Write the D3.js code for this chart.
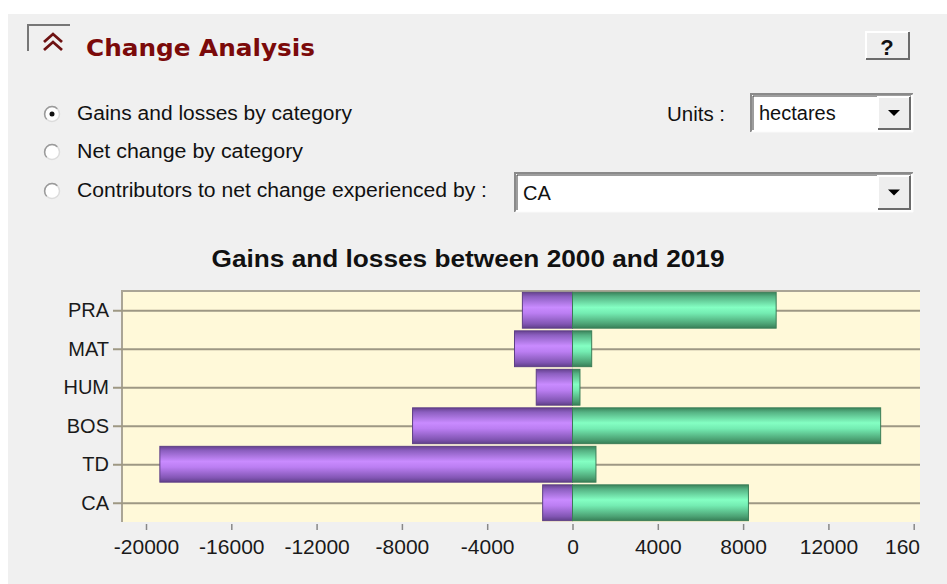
<!DOCTYPE html>
<html>
<head>
<meta charset="utf-8">
<script src="https://cdn.jsdelivr.net/npm/d3@7"></script>
<style>
  body { margin: 0; background: #fff; }
  svg { display: block; }
</style>
</head>
<body>
<div id="chart"></div>
<script>
// data (hectares)
var categories = ["PRA", "MAT", "HUM", "BOS", "TD", "CA"];
var losses = [-2350, -2720, -1700, -7500, -19350, -1400];
var gains = [9550, 900, 350, 14450, 1100, 8250];
var tickValues = [-20000, -16000, -12000, -8000, -4000, 0, 4000, 8000, 12000, 16000];
var xMin = -21125, xMax = 16295;

var W = 947, H = 584;
var plot = { left: 122, right: 920, top: 291, bottom: 522 };

var svg = d3.select("#chart").append("svg")
  .attr("width", W)
  .attr("height", H);

var defs = svg.append("defs");

function barGradient(id, stops) {
  var g = defs.append("linearGradient").attr("id", id)
    .attr("x1", 0).attr("y1", 0).attr("x2", 0).attr("y2", 1);
  stops.forEach(function(s) {
    g.append("stop").attr("offset", s[0]).attr("stop-color", s[1]);
  });
}
barGradient("purple", [[0, "#66428f"], [0.12, "#8c5fc0"], [0.42, "#c98bff"], [0.58, "#bb7ef2"], [0.88, "#8256b4"], [1, "#60408a"]]);
barGradient("green", [[0, "#3a845b"], [0.12, "#55b283"], [0.42, "#84ffc3"], [0.58, "#74ecb2"], [0.88, "#4ca274"], [1, "#377f57"]]);

defs.append("clipPath").attr("id", "clip")
  .append("rect").attr("x", 0).attr("y", 0).attr("width", plot.right).attr("height", H);

// panel background
svg.append("rect").attr("x", 8).attr("y", 14).attr("width", W - 8).attr("height", H - 14)
  .attr("fill", "#f0f0f0");

// ---- header ----
svg.append("path").attr("d", "M28,51V25H70")
  .attr("fill", "none").attr("stroke", "#777").attr("stroke-width", 2);
svg.append("path").attr("d", "M44,42L53,34L62,42M44,50L53,42L62,50")
  .attr("fill", "none").attr("stroke", "#6e1212").attr("stroke-width", 2.8);
svg.append("text").attr("x", 86).attr("y", 56)
  .attr("textLength", 229).attr("lengthAdjust", "spacingAndGlyphs")
  .style("font", "bold 23px 'DejaVu Sans', sans-serif")
  .attr("fill", "#7b0a0a")
  .text("Change Analysis");

// raised "?" button
function raised(x, y, w, h) {
  svg.append("rect").attr("x", x).attr("y", y).attr("width", w).attr("height", h).attr("fill", "#eeeeee");
  svg.append("path").attr("d", "M" + x + "," + (y + h) + "V" + y + "H" + (x + w))
    .attr("fill", "none").attr("stroke", "#fff").attr("stroke-width", 2);
  svg.append("path").attr("d", "M" + x + "," + (y + h) + "H" + (x + w) + "V" + y)
    .attr("fill", "none").attr("stroke", "#6b6b6b").attr("stroke-width", 2);
}
raised(866, 32, 43, 27);
svg.append("text").attr("x", 887).attr("y", 55).attr("text-anchor", "middle")
  .style("font", "bold 22px 'Liberation Sans', Arial, sans-serif").attr("fill", "#111").text("?");

// radio options
var options = [
  { label: "Gains and losses by category", y: 120, w: 275, on: true },
  { label: "Net change by category", y: 158, w: 226, on: false },
  { label: "Contributors to net change experienced by :", y: 197, w: 410, on: false }
];
options.forEach(function(o) {
  var cy = o.y - 6;
  svg.append("circle").attr("cx", 52).attr("cy", cy).attr("r", 7.5)
    .attr("fill", "#fff").attr("stroke", "#dcdcdc").attr("stroke-width", 1.5);
  svg.append("path")
    .attr("d", "M" + (52 - 7.5 * 0.707) + "," + (cy + 7.5 * 0.707) + "A7.5,7.5 0 0 1 " + (52 + 7.5 * 0.707) + "," + (cy - 7.5 * 0.707))
    .attr("fill", "none").attr("stroke", "#9a9a9a").attr("stroke-width", 1.5);
  if (o.on) svg.append("circle").attr("cx", 52).attr("cy", cy).attr("r", 2.5).attr("fill", "#111");
  svg.append("text").attr("x", 77).attr("y", o.y)
    .attr("textLength", o.w).attr("lengthAdjust", "spacingAndGlyphs")
    .style("font", "20px 'Liberation Sans', Arial, sans-serif").attr("fill", "#111")
    .text(o.label);
});

svg.append("text").attr("x", 667).attr("y", 121)
  .attr("textLength", 58).attr("lengthAdjust", "spacingAndGlyphs")
  .style("font", "20px 'Liberation Sans', Arial, sans-serif").attr("fill", "#111").text("Units :");

// dropdowns
function dropdown(x, y, w, h, label) {
  svg.append("rect").attr("x", x).attr("y", y).attr("width", w).attr("height", h).attr("fill", "#fff");
  svg.append("path").attr("d", "M" + x + "," + (y + h) + "V" + y + "H" + (x + w))
    .attr("fill", "none").attr("stroke", "#8a8a8a").attr("stroke-width", 2);
  svg.append("path").attr("d", "M" + (x + 2) + "," + (y + h - 2) + "V" + (y + 2) + "H" + (x + w - 2))
    .attr("fill", "none").attr("stroke", "#3c3c3c").attr("stroke-width", 1);
  svg.append("path").attr("d", "M" + x + "," + (y + h) + "H" + (x + w) + "V" + y)
    .attr("fill", "none").attr("stroke", "#fafafa").attr("stroke-width", 1);
  raised(x + w - 35, y + 3, 32, h - 6);
  var cx = x + w - 19, cy = y + h / 2;
  svg.append("path").attr("d", "M" + (cx - 6) + "," + (cy - 3) + "H" + (cx + 6) + "L" + cx + "," + (cy + 3) + "Z").attr("fill", "#000");
  svg.append("text").attr("x", x + 8).attr("y", y + h / 2 + 7)
    .style("font", "20px 'Liberation Sans', Arial, sans-serif").attr("fill", "#111").text(label);
}
dropdown(751, 94, 162, 38, "hectares");
dropdown(515, 173, 398, 39, "CA");

// ---- chart ----
var x = d3.scaleLinear().domain([xMin, xMax]).range([plot.left, plot.right]);
var y = d3.scaleBand().domain(categories).range([plot.top, plot.bottom]).paddingInner(0.07).paddingOuter(0.035);

svg.append("text").attr("x", 468).attr("y", 267).attr("text-anchor", "middle")
  .attr("textLength", 513).attr("lengthAdjust", "spacingAndGlyphs")
  .style("font", "bold 23px 'Liberation Sans', Arial, sans-serif").attr("fill", "#111")
  .text("Gains and losses between 2000 and 2019");

svg.append("rect").attr("x", plot.left).attr("y", plot.top)
  .attr("width", plot.right - plot.left).attr("height", plot.bottom - plot.top)
  .attr("fill", "#fff9d9");
svg.append("path").attr("d", "M" + plot.left + "," + plot.bottom + "V" + plot.top + "H" + plot.right)
  .attr("fill", "none").attr("stroke", "#aaa596").attr("stroke-width", 2);

// y axis with gridlines
var yAxis = svg.append("g").attr("transform", "translate(" + plot.left + ",0)")
  .call(d3.axisLeft(d3.scalePoint().domain(categories).range([y(categories[0]) + y.bandwidth() / 2, y(categories[5]) + y.bandwidth() / 2]))
    .tickSizeInner(-(plot.right - plot.left)).tickSizeOuter(0).tickPadding(13));
yAxis.select(".domain").remove();
yAxis.selectAll("line").attr("stroke", "#9e9884").attr("stroke-width", 2).attr("x1", -9);
yAxis.selectAll("text").style("font", "20px 'Liberation Sans', Arial, sans-serif").attr("fill", "#1a1a1a");

// x axis
var xAxis = svg.append("g").attr("transform", "translate(0," + (plot.bottom + 2) + ")")
  .attr("clip-path", "url(#clip)")
  .call(d3.axisBottom(x).tickValues(tickValues).tickFormat(function(d) { return String(d); })
    .tickSizeInner(6).tickSizeOuter(0).tickPadding(9));
xAxis.select(".domain").remove();
xAxis.selectAll("line").attr("stroke", "#888").attr("stroke-width", 1.5);
xAxis.selectAll("text").style("font", "21px 'Liberation Sans', Arial, sans-serif").attr("fill", "#1a1a1a");

// bars
function drawBars(values, fill, stroke) {
  svg.append("g").selectAll("rect").data(values).enter().append("rect")
    .attr("x", function(d) { return x(Math.min(0, d)); })
    .attr("y", function(d, i) { return y(categories[i]); })
    .attr("width", function(d) { return Math.abs(x(d) - x(0)); })
    .attr("height", y.bandwidth())
    .attr("fill", fill)
    .attr("stroke", stroke).attr("stroke-width", 1);
}
drawBars(losses, "url(#purple)", "#5e3f86");
drawBars(gains, "url(#green)", "#3b7d57");
</script>
</body>
</html>
